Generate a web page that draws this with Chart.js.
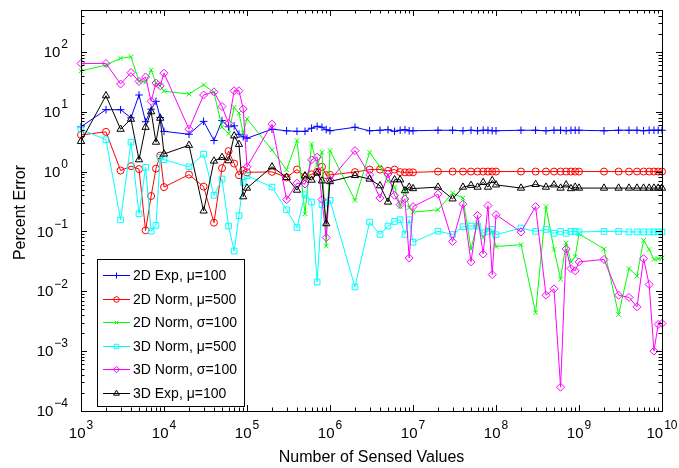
<!DOCTYPE html>
<html>
<head>
<meta charset="utf-8">
<script src="https://cdn.jsdelivr.net/npm/chart.js@4.4.0/dist/chart.umd.min.js"></script>
<style>
  body { margin: 0; background: #fff; }
  canvas { display: block; }
</style>
</head>
<body>
<canvas id="myChart" width="679" height="468"></canvas>
<script>
// number of sensed values (x), same for every run
const sensed = [
  1e3, 2e3, 3e3, 4e3, 5e3, 6e3, 7e3, 8e3, 9e3,
  1e4, 2e4, 3e4, 4e4, 5e4, 6e4, 7e4, 8e4, 9e4,
  1e5, 2e5, 3e5, 4e5, 5e5, 6e5, 7e5, 8e5, 9e5,
  1e6, 2e6, 3e6, 4e6, 5e6, 6e6, 7e6, 8e6, 9e6,
  1e7, 2e7, 3e7, 4e7, 5e7, 6e7, 7e7, 8e7, 9e7,
  1e8, 2e8, 3e8, 4e8, 5e8, 6e8, 7e8, 8e8, 9e8,
  1e9, 2e9, 3e9, 4e9, 5e9, 6e9, 7e9, 8e9, 9e9,
  1e10
];

// percent error per run
const exp2d = [
  5.6, 10.8, 10.8, 7.9, 19, 6.8, 11, 14.9, 8,
  4.7, 4.2, 6.9, 3.3, 7.1, 5.6, 5.8, 4.2, 3.8,
  3.6, 5.1, 4.8, 4.7, 4.7, 5.3, 5.7, 5.5, 5.0,
  4.8, 5.5, 4.8, 4.9, 5.0, 4.7, 4.9, 5.0, 4.8,
  4.8, 4.9, 4.9, 4.8, 4.9, 4.8, 4.9, 4.9, 4.8,
  4.8, 4.9, 4.9, 4.8, 4.9, 4.9, 4.8, 4.9, 4.9,
  4.9, 4.8, 4.9, 4.9, 4.9, 4.8, 4.9, 4.9, 4.9,
  4.9
];
const norm2dMu = [
  4.1, 4.6, 1.04, 1.23, 1.1, 0.104, 0.39, 1.12, 1.85,
  0.55, 0.89, 0.56, 0.14, 1.14, 2.2, 1.36, 0.87, 1.05,
  0.97, 0.99, 0.8, 1.08, 0.82, 0.9, 0.99, 1.2, 0.87,
  0.88, 0.98, 1.08, 1.08, 1.03, 1.08, 0.98, 0.97, 0.97,
  0.97, 1.0, 1.0, 1.0, 1.0, 1.0, 1.0, 1.0, 1.0,
  1.0, 1.0, 1.0, 1.0, 1.0, 1.0, 1.0, 1.0, 1.0,
  1.0, 1.0, 1.0, 1.0, 1.0, 1.0, 1.0, 1.0, 1.0,
  1.0
];
const norm2dSigma = [
  48, 60, 78, 83, 32, 31, 50, 30, 27,
  22, 19.7, 28, 21, 5.5, 4.3, 11.8, 9.5, 4.4,
  7.6, 2.3, 1.07, 3.3, 0.197, 2.9, 1.26, 2.1, 0.057,
  2.24, 0.33, 2.1, 1.2, 0.7, 0.55, 0.26, 0.5, 0.25,
  0.21, 0.23, 0.44, 0.36, 0.051, 0.138, 0.079, 0.111, 0.098,
  0.056, 0.06, 0.0044, 0.26, 0.05, 0.016, 0.064, 0.031, 0.038,
  0.091, 0.051, 0.0041, 0.024, 0.018, 0.071, 0.05, 0.034, 0.035,
  0.036
];
const norm3dMu = [
  5.1, 3.4, 0.156, 3.1, 0.197, 1.18, 0.101, 0.126, 1.73,
  1.58, 1.2, 1.95, 0.4, 0.75, 0.123, 0.047, 0.183, 0.66,
  0.85, 0.55, 0.23, 0.116, 0.41, 0.31, 0.0143, 0.28, 0.3,
  0.33, 0.0118, 0.143, 0.089, 0.123, 0.147, 0.157, 0.089, 0.157,
  0.066, 0.101, 0.089, 0.12, 0.123, 0.123, 0.095, 0.1, 0.108,
  0.088, 0.114, 0.1, 0.108, 0.093, 0.1, 0.093, 0.1, 0.1,
  0.098, 0.1, 0.1, 0.098, 0.098, 0.098, 0.098, 0.098, 0.098,
  0.098
];
const norm3dSigma = [
  64, 64, 29, 45, 32, 38, 14.9, 30, 27,
  44, 5.1, 19, 21.5, 12.2, 6.4, 22.4, 22.4, 11.1,
  1.2, 6.2, 0.34, 0.64, 0.62, 1.57, 1.74, 0.34, 0.079,
  0.72, 2.24, 0.88, 0.36, 0.91, 0.4, 0.28, 0.35, 0.036,
  0.26, 0.42, 0.068, 0.285, 0.031, 0.185, 0.042, 0.27, 0.019,
  0.19, 0.098, 0.26, 0.0086, 0.011, 0.00025, 0.051, 0.024, 0.022,
  0.031, 0.034, 0.0086, 0.0079, 0.0055, 0.035, 0.013, 0.001, 0.0028,
  0.0029
];
const exp3d = [
  3.2, 18.5, 5.1, 7.5, 1.58, 5.5, 10, 3.1, 7.8,
  1.97, 2.75, 0.22, 1.5, 1.73, 1.52, 3.95, 2.85, 0.38,
  0.53, 1.2, 0.8, 0.49, 0.85, 0.72, 0.95, 0.7, 0.135,
  0.68, 0.86, 0.75, 0.58, 0.31, 0.73, 0.73, 0.48, 0.55,
  0.52, 0.55, 0.35, 0.55, 0.59, 0.55, 0.66, 0.55, 0.71,
  0.6, 0.53, 0.61, 0.55, 0.6, 0.53, 0.6, 0.52, 0.55,
  0.53, 0.53, 0.53, 0.53, 0.53, 0.53, 0.53, 0.53, 0.53,
  0.53
];

// decade ticks (exponents)
const xDecades = [3, 4, 5, 6, 7, 8, 9, 10];
const yDecades = [-4, -3, -2, -1, 0, 1, 2];

const FONT = '"Liberation Sans", Arial, Helvetica, sans-serif';

const series = [
  { label: '2D Exp, \u03bc=100', data: exp2d, color: '#0000ff', marker: 'cross', r: 3.8 },
  { label: '2D Norm, \u03bc=500', data: norm2dMu, color: '#ff0000', marker: 'circle', r: 3.5 },
  { label: '2D Norm, \u03c3=100', data: norm2dSigma, color: '#00ff00', marker: 'crossRot', r: 3.2 },
  { label: '3D Norm, \u03bc=500', data: norm3dMu, color: '#00ffff', marker: 'rect', r: 4 },
  { label: '3D Norm, \u03c3=100', data: norm3dSigma, color: '#ff00ff', marker: 'rectRot', r: 4 },
  { label: '3D Exp, \u03bc=100', data: exp3d, color: '#000000', marker: 'triangle', r: 4.2 }
];

// "10" with a raised exponent, anchored right or centred
function drawPow(c, e, x, y, align) {
  const sup = e < 0 ? '\u2212' + Math.abs(e) : String(e);
  c.font = '15px ' + FONT;
  const bw = c.measureText('10').width;
  c.font = '12px ' + FONT;
  const sw = c.measureText(sup).width;
  const total = bw + sw + 1;
  const left = align === 'right' ? x - total : x - total / 2;
  c.textAlign = 'left';
  c.textBaseline = 'middle';
  c.font = '15px ' + FONT;
  c.fillText('10', left, y);
  c.font = '12px ' + FONT;
  c.fillText(sup, left + bw + 1, y - 8);
}

// box, inward ticks on all four sides, tick labels and axis titles
const ejes = {
  id: 'ejes',
  afterDatasetsDraw(chart) {
    const { ctx: c, chartArea: a, scales: { x, y } } = chart;
    c.save();
    c.strokeStyle = '#000';
    c.lineWidth = 1;
    c.beginPath();
    xDecades.forEach((d) => {
      for (let m = 1; m < 10; m++) {
        const v = m * Math.pow(10, d);
        if (v > x.max * 1.0001) break;
        const px = Math.round(x.getPixelForValue(v)) + 0.5;
        const len = m === 1 ? 6 : 3.5;
        c.moveTo(px, a.bottom); c.lineTo(px, a.bottom - len);
        c.moveTo(px, a.top); c.lineTo(px, a.top + len);
      }
    });
    yDecades.forEach((d) => {
      for (let m = 1; m < 10; m++) {
        const v = m * Math.pow(10, d);
        if (v > y.max * 1.0001) break;
        const py = Math.round(y.getPixelForValue(v)) + 0.5;
        const len = m === 1 ? 6 : 3.5;
        c.moveTo(a.left, py); c.lineTo(a.left + len, py);
        c.moveTo(a.right, py); c.lineTo(a.right - len, py);
      }
    });
    c.stroke();
    c.strokeRect(Math.round(a.left) + 0.5, Math.round(a.top) + 0.5,
      Math.round(a.right - a.left), Math.round(a.bottom - a.top));

    c.fillStyle = '#000';
    xDecades.forEach((d) => drawPow(c, d, x.getPixelForValue(Math.pow(10, d)), 434, 'center'));
    yDecades.forEach((d) => drawPow(c, d, 68, y.getPixelForValue(Math.pow(10, d)) + 1, 'right'));

    c.font = '16px ' + FONT;
    c.textAlign = 'center';
    c.textBaseline = 'middle';
    c.fillText('Number of Sensed Values', (a.left + a.right) / 2, 458);
    c.translate(21, (a.top + a.bottom) / 2 + 2);
    c.rotate(-Math.PI / 2);
    c.fillText('Percent Error', 0, 0);
    c.restore();
  }
};

// legend box in the lower left corner of the plot
const leyenda = {
  id: 'leyenda',
  afterDraw(chart) {
    const c = chart.ctx;
    c.save();
    c.fillStyle = '#fff';
    c.fillRect(97.5, 259.5, 147, 147);
    c.strokeStyle = '#000';
    c.lineWidth = 1;
    c.strokeRect(97.5, 259.5, 147, 147);
    c.font = '14px ' + FONT;
    c.textAlign = 'left';
    c.textBaseline = 'middle';
    chart.data.datasets.forEach((ds, i) => {
      const yy = Math.round(275 + i * 23.5) + 0.5;
      c.strokeStyle = ds.borderColor;
      c.beginPath();
      c.moveTo(103, yy);
      c.lineTo(130, yy);
      c.stroke();
      c.fillStyle = 'rgba(0,0,0,0)';
      Chart.helpers.drawPoint(c, { pointStyle: ds.pointStyle, radius: ds.pointRadius * 0.8, rotation: 0, borderWidth: 1 }, 116.5, yy);
      c.fillStyle = '#000';
      c.fillText(ds.label, 133, yy + 1);
    });
    c.restore();
  }
};

const datasets = series.map((s, i) => ({
  label: s.label,
  data: sensed.map((v, k) => ({ x: v, y: s.data[k] })),
  borderColor: s.color,
  backgroundColor: 'rgba(0,0,0,0)',
  pointBorderColor: s.color,
  pointBackgroundColor: 'rgba(0,0,0,0)',
  pointStyle: s.marker,
  pointRadius: s.r,
  pointBorderWidth: 1,
  borderWidth: 1,
  tension: 0,
  clip: false,
  order: series.length - i
}));

const grafico = new Chart(document.getElementById('myChart'), {
  type: 'line',
  data: { datasets },
  options: {
    responsive: false,
    animation: false,
    devicePixelRatio: 1,
    layout: { padding: { left: 81, top: 10, right: 17, bottom: 57 } },
    scales: {
      x: { type: 'logarithmic', min: 1e3, max: 1e10, display: false },
      y: { type: 'logarithmic', min: 1e-4, max: 500, display: false }
    },
    plugins: {
      legend: { display: false },
      tooltip: { enabled: false }
    }
  },
  plugins: [ejes, leyenda]
});
</script>
</body>
</html>
